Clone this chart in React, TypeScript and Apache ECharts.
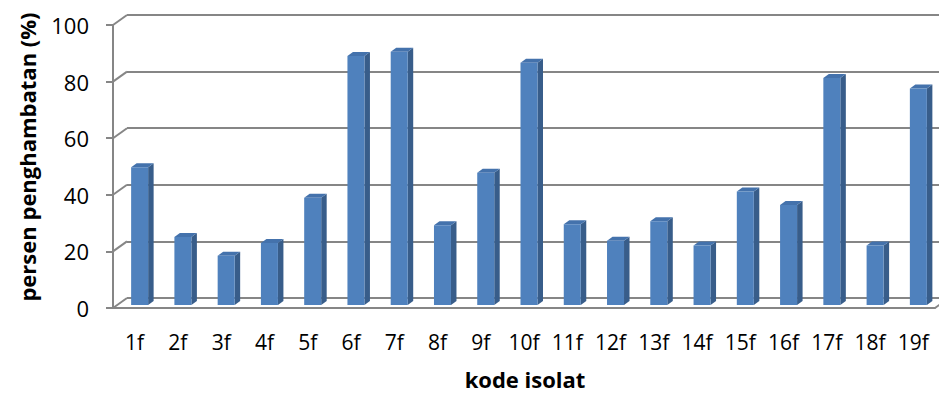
import React, { useEffect, useRef } from "react";
import * as echarts from "echarts";

// Isolate codes and their inhibition percentage
const categories = [
  "1f", "2f", "3f", "4f", "5f", "6f", "7f", "8f", "9f", "10f",
  "11f", "12f", "13f", "14f", "15f", "16f", "17f", "18f", "19f",
];
const inhibition = [
  48.7, 24.0, 17.4, 21.9, 37.9, 88.0, 89.5, 28.2, 46.7, 85.6,
  28.5, 22.7, 29.6, 21.0, 40.1, 35.3, 80.2, 21.0, 76.5,
];
const yTicks = [0, 20, 40, 60, 80, 100];

// 3D look: depth of the walls and of each column
const WALL_DX = 14;
const WALL_DY = -10;
const BAR_SHIFT_X = 5;
const BAR_SHIFT_Y = -3;
const BAR_W = 17;
const BAR_DX = 5.5;
const BAR_DY = -4;

const FRONT = "#4F81BD";
const SIDE = "#385D8A";
const TOP = "#4472AC";
const GRID = "#868686";
const FONT = "'Open Sans', 'Liberation Sans', sans-serif";

export default function App() {
  const ref = useRef<HTMLDivElement>(null);

  useEffect(() => {
    if (!ref.current) return;
    const chart = echarts.init(ref.current, null, { renderer: "svg" });

    const option: any = {
      animation: false,
      backgroundColor: "#ffffff",
      grid: [
        // front plane: axis labels, ticks and columns
        { left: 113, right: 4, top: 25, bottom: 86 },
        // back wall: horizontal gridlines
        { left: 113 + WALL_DX, right: 4 - WALL_DX, top: 25 + WALL_DY, bottom: 86 - WALL_DY },
      ],
      xAxis: [
        {
          gridIndex: 0,
          type: "category",
          data: categories,
          axisLine: { show: true, lineStyle: { color: GRID, width: 2 } },
          axisTick: { show: false },
          axisLabel: { color: "#000", fontSize: 21, fontFamily: FONT, margin: 23 },
          splitLine: { show: false },
        },
        { gridIndex: 1, type: "value", show: false },
      ],
      yAxis: [
        {
          gridIndex: 0,
          type: "value",
          min: 0,
          max: 100,
          interval: 20,
          axisLine: { show: true, lineStyle: { color: GRID, width: 2 } },
          axisTick: { show: true, length: 7, lineStyle: { color: GRID, width: 2 } },
          axisLabel: { color: "#000", fontSize: 22, fontFamily: FONT, margin: 24 },
          splitLine: { show: false },
        },
        {
          gridIndex: 1,
          type: "value",
          min: 0,
          max: 100,
          interval: 20,
          axisLine: { show: false },
          axisTick: { show: false },
          axisLabel: { show: false },
          splitLine: { show: true, lineStyle: { color: GRID, width: 2 } },
        },
      ],
      series: [
        {
          // side wall diagonals and floor corner
          type: "custom",
          xAxisIndex: 0,
          yAxisIndex: 0,
          z: 1,
          silent: true,
          data: yTicks.map((v) => [0, v]),
          renderItem: (params: any, api: any) => {
            const v = api.value(1);
            const y = api.coord([0, v])[1];
            const cs = params.coordSys;
            const children: any[] = [
              {
                type: "line",
                shape: { x1: cs.x, y1: y, x2: cs.x + WALL_DX, y2: y + WALL_DY },
                style: { stroke: GRID, lineWidth: 2 },
              },
            ];
            if (v === 0) {
              const xr = cs.x + cs.width;
              children.push({
                type: "line",
                shape: { x1: xr, y1: y, x2: xr + WALL_DX, y2: y + WALL_DY },
                style: { stroke: GRID, lineWidth: 2 },
              });
            }
            return { type: "group", children };
          },
        },
        {
          // 3D columns
          type: "custom",
          xAxisIndex: 0,
          yAxisIndex: 0,
          z: 3,
          data: inhibition.map((v, i) => [i, v]),
          encode: { x: 0, y: 1 },
          renderItem: (_params: any, api: any) => {
            const i = api.value(0);
            const v = api.value(1);
            const top = api.coord([i, v]);
            const base = api.coord([i, 0]);
            const cx = top[0] + BAR_SHIFT_X;
            const x0 = cx - BAR_W / 2;
            const x1 = cx + BAR_W / 2;
            const yt = top[1] + BAR_SHIFT_Y;
            const yb = base[1] + BAR_SHIFT_Y;
            return {
              type: "group",
              children: [
                {
                  type: "polygon",
                  shape: {
                    points: [
                      [x1, yb],
                      [x1 + BAR_DX, yb + BAR_DY],
                      [x1 + BAR_DX, yt + BAR_DY],
                      [x1, yt],
                    ],
                  },
                  style: { fill: SIDE },
                },
                {
                  type: "polygon",
                  shape: {
                    points: [
                      [x0, yt],
                      [x1, yt],
                      [x1 + BAR_DX, yt + BAR_DY],
                      [x0 + BAR_DX, yt + BAR_DY],
                    ],
                  },
                  style: { fill: TOP },
                },
                {
                  type: "rect",
                  shape: { x: x0, y: yt, width: BAR_W, height: yb - yt },
                  style: { fill: FRONT },
                },
              ],
            };
          },
        },
      ],
      graphic: [
        {
          type: "text",
          x: 27,
          y: 157,
          rotation: Math.PI / 2,
          style: {
            text: "persen penghambatan (%)",
            fontSize: 22,
            fontWeight: "bold",
            fontFamily: FONT,
            fill: "#000",
            align: "center",
            verticalAlign: "middle",
          },
        },
        {
          type: "text",
          x: 525,
          y: 379,
          style: {
            text: "kode isolat",
            fontSize: 22,
            fontWeight: "bold",
            fontFamily: FONT,
            fill: "#000",
            align: "center",
            verticalAlign: "middle",
          },
        },
      ],
    };

    chart.setOption(option);
    return () => chart.dispose();
  }, []);

  return <div ref={ref} style={{ width: 939, height: 394, position: "absolute", left: 0, top: 0 }} />;
}
